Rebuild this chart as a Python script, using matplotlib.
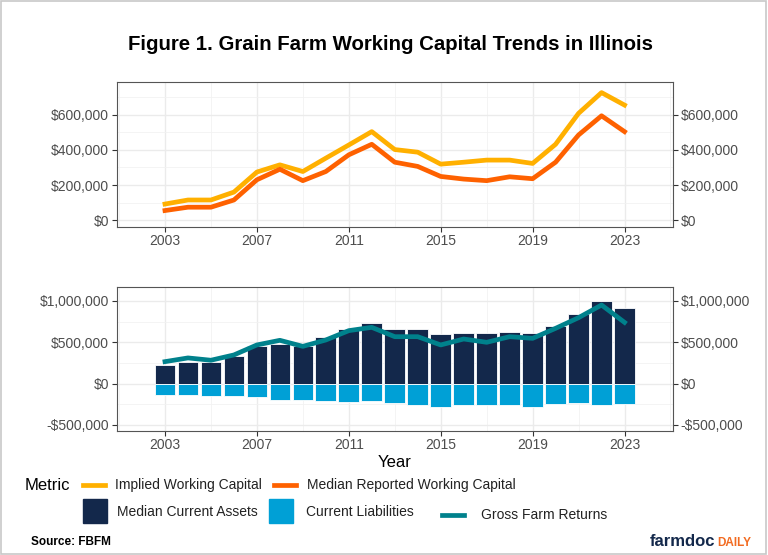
import matplotlib
matplotlib.use("Agg")
import matplotlib.pyplot as plt
from matplotlib.lines import Line2D
from matplotlib.patches import Rectangle
from matplotlib.ticker import FuncFormatter, FixedLocator

plt.rcParams['font.family'] = ['Liberation Sans', 'DejaVu Sans']

years = list(range(2003, 2024))

# top panel: working capital
implied_wc = [92000, 115000, 115000, 160000, 274000, 315000, 277000, 353000, 428000, 504000,
              402000, 387000, 319000, 330000, 342000, 342000, 323000, 432000, 608000, 726000, 655000]
reported_wc = [55000, 74000, 74000, 115000, 230000, 290000, 225000, 277000, 372000, 432000,
               330000, 306000, 249000, 234000, 225000, 247000, 236000, 330000, 485000, 594000, 504000]

# bottom panel: assets, liabilities, gross farm returns
current_assets = [225000, 257000, 257000, 330000, 450000, 483000, 450000, 567000, 660000, 732000,
                  656000, 664000, 603000, 607000, 607000, 620000, 611000, 692000, 845000, 1002000, 917000]
current_liab = [-137000, -141000, -153000, -153000, -165000, -201000, -201000, -205000, -221000, -217000,
                -241000, -261000, -278000, -265000, -261000, -265000, -282000, -249000, -233000, -265000, -249000]
gross_returns = [265000, 310000, 282000, 346000, 467000, 523000, 450000, 527000, 640000, 680000,
                 567000, 567000, 467000, 539000, 499000, 567000, 547000, 668000, 797000, 950000, 740000]

x_ticks = [2003, 2007, 2011, 2015, 2019, 2023]
top_ticks = [0, 200000, 400000, 600000]
bottom_ticks = [-500000, 0, 500000, 1000000]

c_implied = '#FFB000'
c_reported = '#FE6100'
c_assets = '#13284B'
c_liab = '#00A0D6'
c_gross = '#00818C'


def dollars(v, pos=None):
    s = '${:,.0f}'.format(abs(v))
    return '-' + s if v < 0 else s


def style_axis(ax, yticks, yminor, ylim):
    ax.set_xlim(2000.9, 2025.1)
    ax.set_ylim(*ylim)
    ax.xaxis.set_major_locator(FixedLocator(x_ticks))
    ax.xaxis.set_minor_locator(FixedLocator([2001, 2005, 2009, 2013, 2017, 2021, 2025]))
    ax.yaxis.set_major_locator(FixedLocator(yticks))
    ax.yaxis.set_minor_locator(FixedLocator(yminor))
    ax.yaxis.set_major_formatter(FuncFormatter(dollars))
    ax.grid(True, which='major', color='#EBEBEB', lw=1.0, zorder=0)
    ax.grid(True, which='minor', color='#F2F2F2', lw=0.6, zorder=0)
    ax.set_axisbelow(True)
    ax.tick_params(axis='both', which='major', direction='out', length=3.5, width=0.8,
                   color='#333333', labelcolor='#4D4D4D', labelsize=10, pad=2)
    ax.tick_params(axis='y', which='major', right=True, labelright=True)
    ax.tick_params(which='minor', length=0)
    for sp in ax.spines.values():
        sp.set_color('#555555')
        sp.set_linewidth(0.8)


fig = plt.figure(figsize=(7.68, 5.55), dpi=100)

ax1 = fig.add_axes([0.152, 0.5915, 0.724, 0.2613])
ax1.plot(years, implied_wc, color=c_implied, lw=3.4, solid_joinstyle='round', zorder=3)
ax1.plot(years, reported_wc, color=c_reported, lw=3.4, solid_joinstyle='round', zorder=3)
style_axis(ax1, top_ticks, [100000, 300000, 500000, 700000], (-37000, 788000))

ax2 = fig.add_axes([0.152, 0.224, 0.724, 0.2595])
ax2.bar(years, current_assets, width=0.9, color=c_assets, edgecolor='white', linewidth=0.6, zorder=2)
ax2.bar(years, current_liab, width=0.9, color=c_liab, edgecolor='white', linewidth=0.6, zorder=2)
ax2.plot(years, gross_returns, color=c_gross, lw=3.4, solid_joinstyle='round', zorder=3)
style_axis(ax2, bottom_ticks, [-250000, 250000, 750000], (-570000, 1172000))
ax2.set_xlabel('Year', fontsize=12, color='black', labelpad=2)

fig.text(0.508, 1 - 44 / 555, 'Figure 1. Grain Farm Working Capital Trends in Illinois',
         ha='center', va='center', fontsize=14.7, fontweight='bold')

# legend, drawn by hand to follow the ggplot layout
def fx(px):
    return px / 768


def fy(py):
    return 1 - py / 555


fig.text(fx(25), fy(486), 'Metric', fontsize=12, va='center', ha='left')
fig.add_artist(Line2D([fx(83), fx(105)], [fy(485), fy(485)], color=c_implied, lw=3.4,
                      transform=fig.transFigure))
fig.text(fx(115), fy(485), 'Implied Working Capital', fontsize=10, va='center', color='#222222')
fig.add_artist(Line2D([fx(274), fx(296)], [fy(485), fy(485)], color=c_reported, lw=3.4,
                      transform=fig.transFigure))
fig.text(fx(307), fy(485), 'Median Reported Working Capital', fontsize=10, va='center', color='#222222')

fig.add_artist(Rectangle((fx(83), fy(523)), fx(24), 24 / 555, color=c_assets, transform=fig.transFigure))
fig.text(fx(117), fy(512), 'Median Current Assets', fontsize=10, va='center', color='#222222')
fig.add_artist(Rectangle((fx(269), fy(523)), fx(24), 24 / 555, color=c_liab, transform=fig.transFigure))
fig.text(fx(306), fy(512), 'Current Liabilities', fontsize=10, va='center', color='#222222')
fig.add_artist(Line2D([fx(442), fx(464)], [fy(515), fy(515)], color=c_gross, lw=3.4,
                      transform=fig.transFigure))
fig.text(fx(481), fy(515), 'Gross Farm Returns', fontsize=10, va='center', color='#222222')

fig.text(fx(31), fy(542), 'Source: FBFM', fontsize=8.5, fontweight='bold', va='center')

# logo text: put DAILY right after farmdoc
logo = fig.text(fx(650), fy(542), 'farmdoc', fontsize=12, fontweight='bold', color=c_assets,
                va='baseline' if False else 'center')
renderer = fig.canvas.get_renderer()
bb = logo.get_window_extent(renderer=renderer)
fig.text(bb.x1 / fig.bbox.width + 0.002, fy(543.5), 'DAILY', fontsize=8.5, fontweight='bold',
         color='#F26B21', va='center')

# thin frame round the whole picture
fig.add_artist(Rectangle((0.001, 0.002), 0.997, 0.996, fill=False, edgecolor='#C8C8C8', lw=1.2,
                         transform=fig.transFigure))

fig.savefig('out.png', dpi=100)
